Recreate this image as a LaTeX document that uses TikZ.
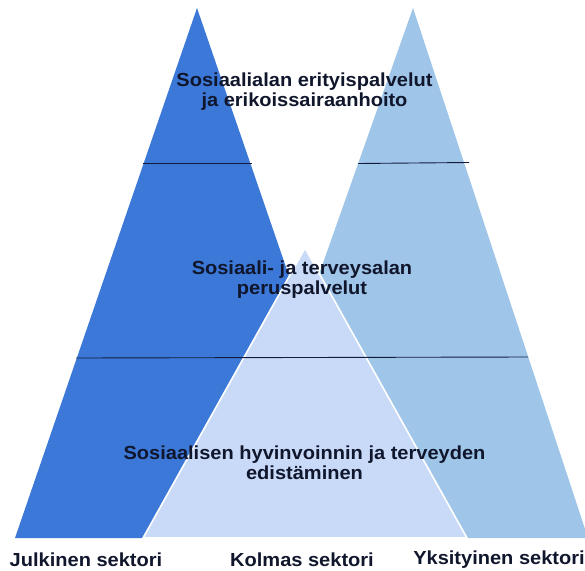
\documentclass[tikz,border=0pt]{standalone}
\usepackage{fontspec}
\setmainfont{Liberation Sans}[FakeStretch=1.06]
\definecolor{publicblue}{RGB}{60,120,216}
\definecolor{privateblue}{RGB}{159,197,232}
\definecolor{thirdblue}{RGB}{201,218,248}
\definecolor{inkdark}{RGB}{16,22,44}
\definecolor{levelline}{RGB}{20,28,60}
\tikzset{
  sector/.style={draw=none},
  thirdsector/.style={fill=thirdblue, draw=white, line width=1.6pt, line join=miter},
  levelrule/.style={draw=levelline, line width=0.9pt},
  leveltext/.style={align=center, text=inkdark, font=\bfseries\fontsize{18.9}{20}\selectfont, inner sep=0pt},
  sectorlabel/.style={text=inkdark, font=\bfseries\fontsize{18.9}{20}\selectfont, inner sep=0pt}
}
\begin{document}
\begin{tikzpicture}[x=1pt,y=-1pt]
\useasboundingbox (0,0) rectangle (585,570);
\clip (0,0) rectangle (585,570);

% corner points of the three sector triangles
\coordinate (pubTop) at (197,8);
\coordinate (pubL)   at (15,538);
\coordinate (pubR)   at (379,538);
\coordinate (priTop) at (413,8);
\coordinate (priL)   at (226,538);
\coordinate (priR)   at (588,538);
\coordinate (thdTop) at (305,248);
\coordinate (thdL)   at (143,538);
\coordinate (thdR)   at (467,538);

% public and private sectors
\fill[publicblue, sector] (pubTop) -- (pubL) -- (pubR) -- cycle;
\fill[privateblue, sector] (priTop) -- (priL) -- (priR) -- cycle;
% third sector in front
\filldraw[thirdsector] (thdTop) -- (thdL) -- (thdR) -- cycle;

% level boundaries
\coordinate (upL1) at (142.5,163);
\coordinate (upL2) at (252,163);
\coordinate (upR1) at (358,163.5);
\coordinate (upR2) at (469,162.5);
\coordinate (lowA) at (76,358);
\coordinate (lowB) at (528,357);
\draw[levelrule] (upL1) -- (upL2);
\draw[levelrule] (upR1) -- (upR2);
\draw[levelrule] (lowA) -- (lowB);

% service levels
\node[leveltext] (special) at (304.5,92) {Sosiaalialan erityispalvelut\\ja erikoissairaanhoito};
\node[leveltext] (basic) at (302,280) {Sosiaali- ja terveysalan\\peruspalvelut};
\node[leveltext] (promo) at (304.5,463) {Sosiaalisen hyvinvoinnin ja terveyden\\edistäminen};

% sector names
\node[sectorlabel] (pubName) at (86,560) {Julkinen sektori};
\node[sectorlabel] (thdName) at (302,560) {Kolmas sektori};
\node[sectorlabel] (priName) at (499,560) {Yksityinen sektori};
\end{tikzpicture}
\end{document}
